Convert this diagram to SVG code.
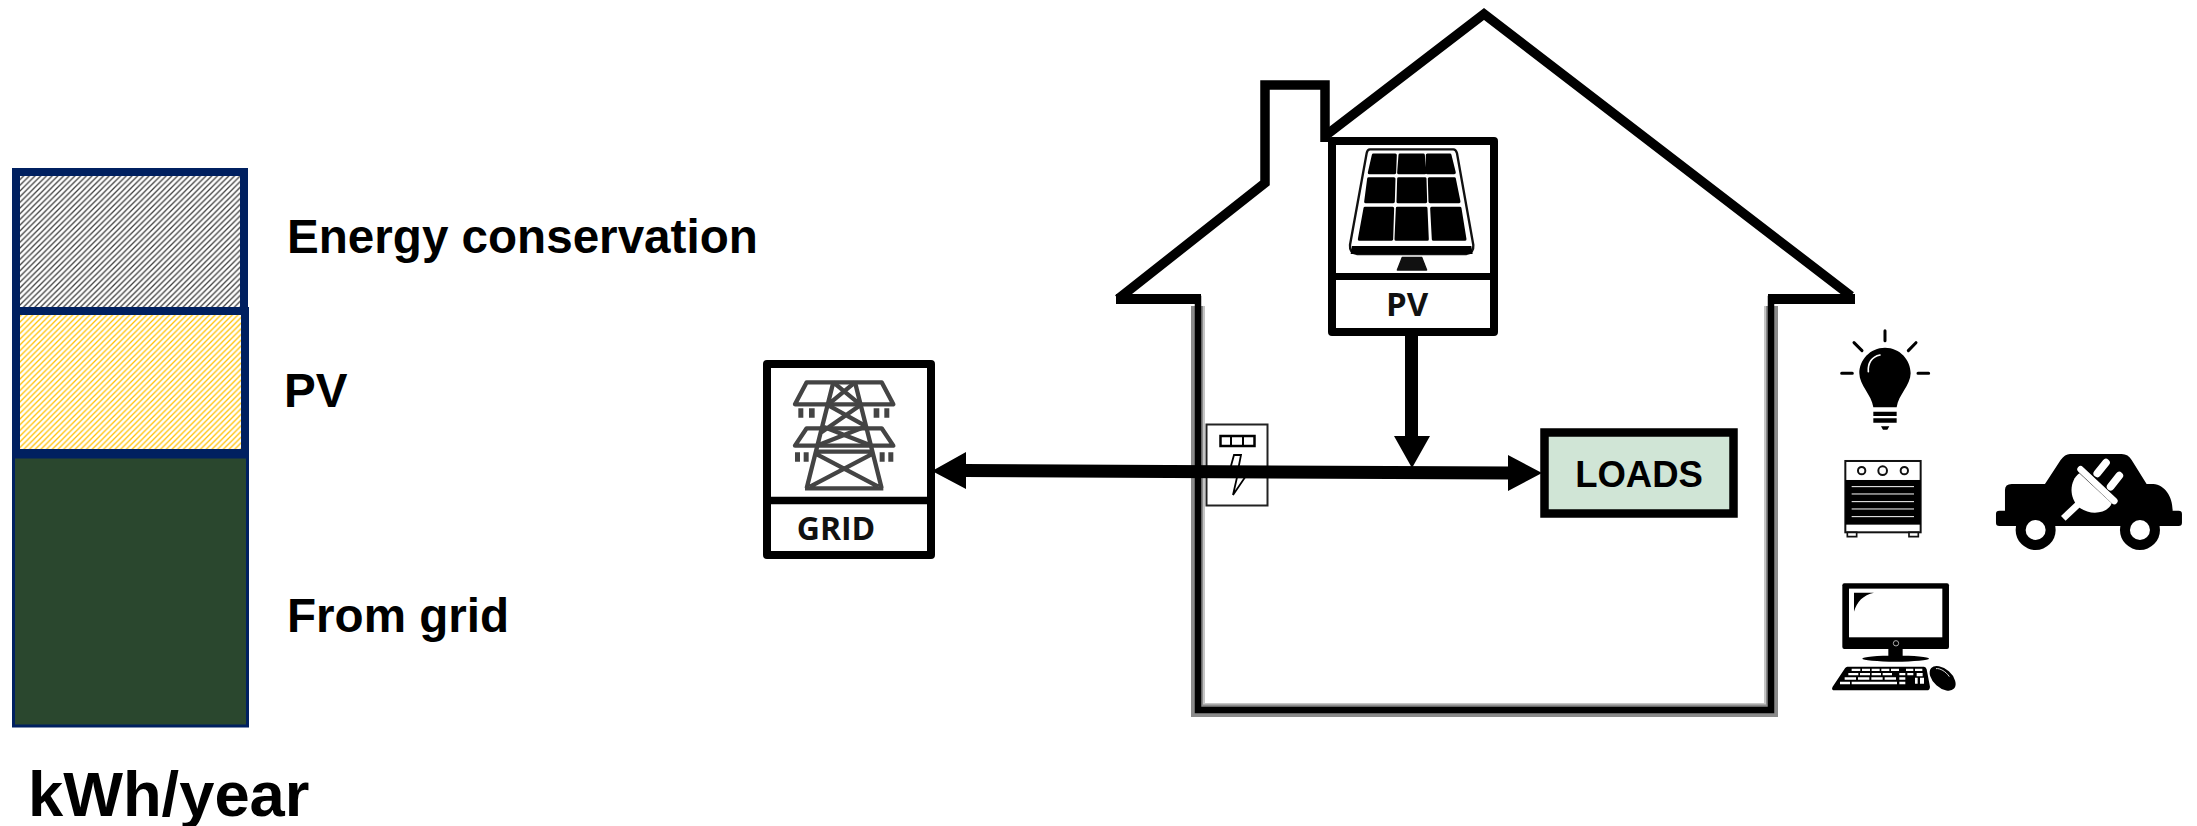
<svg xmlns="http://www.w3.org/2000/svg" width="2197" height="826" viewBox="0 0 2197 826">
<defs>
<pattern id="hatchGray" patternUnits="userSpaceOnUse" width="5.7" height="5.7"><path d="M-1.4 1.4L1.4 -1.4M0 5.7L5.7 0M4.3 7.100L7.100 4.300" stroke="#3c3c3c" stroke-width="1.300" fill="none"/></pattern>
<pattern id="hatchYellow" patternUnits="userSpaceOnUse" width="5.7" height="5.7"><path d="M-1.4 1.4L1.4 -1.4M0 5.7L5.7 0M4.3 7.100L7.100 4.300" stroke="#FFC000" stroke-width="1.300" fill="none"/></pattern>
<style>
.lab{font-family:"Liberation Sans",Arial,sans-serif;font-weight:700;fill:#000}
.tag{font-family:"Open Sans","Noto Sans",sans-serif;font-weight:700;fill:#111;text-anchor:middle}
.box{fill:#fff;stroke:#000;stroke-width:8;stroke-linejoin:round}
.navy{stroke:#002060;stroke-width:8}
.wire{stroke:#000;fill:none;stroke-width:13}
.head{fill:#000}
.tw{fill:none;stroke:#444;stroke-width:13;stroke-linejoin:round}
.ins{fill:#444}
.cell{fill:#000;stroke:#000;stroke-width:9;stroke-linejoin:round}
</style>
</defs>
<rect width="2197" height="826" fill="#fff"/>

<g id="stack-bar">
<g id="bar-conservation"><rect class="navy" x="16" y="172" width="228" height="139" fill="url(#hatchGray)"/></g>
<g id="bar-grid"><rect x="13.500" y="457" width="234" height="269" fill="#2A472E" stroke="#002060" stroke-width="3"/></g>
<g id="bar-pv"><rect class="navy" x="16" y="311" width="229" height="142" fill="url(#hatchYellow)"/></g>
</g>
<text class="lab" x="287" y="252.500" font-size="47.6">Energy conservation</text>
<text class="lab" x="284" y="407" font-size="47.6">PV</text>
<text class="lab" x="287" y="632" font-size="47.6">From grid</text>
<text class="lab" x="28" y="816" font-size="63.3">kWh/year</text>

<g id="house">
<path d="M1198 306V710H1771V306" fill="none" stroke="#8a8a8a" stroke-width="14"/>
<path d="M1204.500 306V703H1764.500V306" fill="none" stroke="#fff" stroke-width="3" opacity=".5"/>
<path d="M1118 299L1265 183V85H1325V142" fill="none" stroke="#000" stroke-width="9.500" stroke-linejoin="miter"/>
<path d="M1325 136L1484 14L1851 296" fill="none" stroke="#000" stroke-width="9.500" stroke-linejoin="miter"/>
<path d="M1118 299H1198V710H1771V299H1855" fill="none" stroke="#000" stroke-width="6.500" stroke-linejoin="miter"/>
<path d="M1116 299H1201M1768 299H1855" fill="none" stroke="#000" stroke-width="10"/>
</g>

<g id="meter">
<rect x="1206.500" y="424.500" width="61" height="81" fill="#fff" stroke="#222" stroke-width="2"/>
<rect x="1220.500" y="436" width="34" height="10" fill="#fff" stroke="#000" stroke-width="2.500"/>
<path d="M1231 437V445M1243 437V445" stroke="#000" stroke-width="2"/>
<path d="M1234 455H1241L1238 470H1250L1233 495L1238 473H1229Z" fill="#fff" stroke="#000" stroke-width="1.800"/>
</g>

<g id="grid">
<rect class="box" x="767" y="364" width="164" height="191"/>
<path d="M767 500.500H931" stroke="#000" stroke-width="7.500"/>
<g transform="translate(755 355) scale(.3333)">
<path class="tw" d="M155 82H380L415 148H120ZM155 220H380L415 272H120Z"/>
<path class="tw" d="M235 82L155 400M300 82L380 400M150 400H385M235 82L315 148M300 82L220 148M215 148L335 215M320 148L195 235M205 215L350 272M330 215L185 272M180 295L370 395M355 295L165 395M180 290H355"/>
<path class="ins" d="M130 160h15v28h-15zM162 160h17v28h-17zM356 160h17v28h-17zM388 160h15v28h-15zM120 292h15v28h-15zM146 292h15v28h-15zM374 292h15v28h-15zM400 292h15v28h-15z"/>
</g>
<text class="tag" x="836" y="540" font-size="32">GRID</text>
</g>

<g id="pv">
<rect class="box" x="1332" y="141" width="162" height="191"/>
<path d="M1332 276.500H1494" stroke="#000" stroke-width="7"/>
<g transform="translate(1310 130) scale(.3333)">
<path d="M180 58H430Q438 58 441 70L490 345Q492 370 468 372H142Q118 370 120 345L170 70Q172 58 180 58Z" fill="#fff" stroke="#111" stroke-width="7"/>
<path d="M126 348H484L488 372H122Z" fill="#000"/>
<path class="cell" d="M190 75L256 75L254 128L178 128Z"/>
<path class="cell" d="M270 75L340 75L345 128L266 128Z"/>
<path class="cell" d="M352 75L420 75L433 128L352 128Z"/>
<path class="cell" d="M176 146L252 146L250 215L167 215Z"/>
<path class="cell" d="M266 146L345 146L347 215L264 215Z"/>
<path class="cell" d="M358 146L433 146L447 215L360 215Z"/>
<path class="cell" d="M165 235L248 235L245 328L148 328Z"/>
<path class="cell" d="M262 235L348 235L352 328L258 328Z"/>
<path class="cell" d="M365 235L450 235L465 328L370 328Z"/>
<path d="M277 382H335L350 420H262Z" fill="#111" stroke="#111" stroke-width="4" stroke-linejoin="round"/>
</g>
<text class="tag" x="1407" y="316" font-size="33">PV</text>
</g>

<g id="loads">
<rect x="1544.500" y="432.500" width="189" height="81" fill="#D0E5D6" stroke="#000" stroke-width="8.500"/>
<text class="lab" x="1639" y="487" font-size="36.500" text-anchor="middle">LOADS</text>
</g>

<g id="connectors">
<path class="wire" d="M965 470.500L1510 473"/>
<path class="head" d="M932 471L966 452V489ZM1542 473L1508 455V491Z"/>
<path class="wire" d="M1411.500 336V440"/>
<path class="head" d="M1394 436H1430L1412 468Z"/>
</g>

<g id="bulb" transform="translate(1800 310) scale(.3333)">
<path d="M255 113C210 113 178 150 178 190C178 225 215 255 220 292H290C295 255 332 225 332 190C332 150 300 113 255 113Z" fill="#000"/>
<path d="M205 185C203 160 215 140 240 135" fill="none" stroke="#fff" stroke-width="5" stroke-linecap="round"/>
<path d="M220 305h70v13h-70zM220 325h70v13h-70zM243 349h25l-6 10h-13z" fill="#000"/>
<path d="M255 62V92M162 98L186 122M348 98L325 122M125 190H157M354 190H386" stroke="#000" stroke-width="9" stroke-linecap="round" fill="none"/>
</g>

<g id="oven" transform="translate(1800 310) scale(.3333)">
<rect x="136" y="453" width="226" height="214" fill="#fff" stroke="#111" stroke-width="6"/>
<rect x="136" y="510" width="226" height="134" fill="#000"/>
<path d="M155 530H342M155 552H342M155 575H342M155 597H342M155 620H342" stroke="#fff" stroke-width="3"/>
<circle cx="185" cy="482" r="11" fill="#fff" stroke="#111" stroke-width="6"/>
<circle cx="248" cy="482" r="13" fill="#fff" stroke="#111" stroke-width="6"/>
<circle cx="313" cy="482" r="11" fill="#fff" stroke="#111" stroke-width="6"/>
<path d="M142 667h28v13h-28zM327 667h28v13h-28z" fill="#fff" stroke="#111" stroke-width="5"/>
</g>

<g id="computer" transform="translate(1800 310) scale(.3333)">
<rect x="127" y="820" width="320" height="197" rx="6" fill="#000"/>
<rect x="147" y="836" width="280" height="146" fill="#fff"/>
<path d="M162 848H222C190 855 170 875 162 905Z" fill="#000"/>
<circle cx="288" cy="1000" r="8" fill="none" stroke="#aaa" stroke-width="3"/>
<path d="M265 1017H308V1042H265Z" fill="#000"/>
<ellipse cx="287" cy="1046" rx="100" ry="9" fill="#000"/>
<path d="M142 1070H372Q378 1070 380 1078L390 1130Q390 1141 380 1141H105Q92 1141 98 1130L135 1075Q138 1070 142 1070Z" fill="#000"/>
<path d="M155 1076h26v7h-26zM186 1076h24v7h-24zM215 1076h24v7h-24zM244 1076h24v7h-24zM273 1076h24v7h-24zM318 1076h22v7h-22zM345 1076h22v7h-22zM145 1089h30v7h-30zM180 1089h30v7h-30zM215 1089h28v7h-28zM248 1089h28v7h-28zM298 1089h18v7h-18zM322 1089h18v7h-18zM350 1089h18v10h-18zM134 1102h34v7h-34zM174 1102h34v7h-34zM214 1102h34v7h-34zM254 1102h34v7h-34zM298 1102h18v7h-18zM345 1103h8v18h-8zM360 1103h12v18h-12zM120 1115h30v8h-30zM155 1115h136v8h-136zM298 1115h18v8h-18z" fill="#fff"/>
<ellipse cx="428" cy="1105" rx="46" ry="28" transform="rotate(42 428 1105)" fill="#000"/>
<path d="M408 1076C420 1074 438 1085 448 1100" fill="none" stroke="#ddd" stroke-width="3"/>
</g>

<g id="car" transform="translate(1800 310) scale(.3333)">
<path d="M615 602V540Q615 522 635 522H735L782 450Q795 432 810 432H965Q985 432 995 450L1040 522H1060C1095 525 1118 560 1118 602H1136Q1146 602 1146 612V638Q1146 648 1136 648H598Q588 648 588 638V612Q588 602 598 602Z" fill="#000"/>
<circle cx="707" cy="660" r="60" fill="#000"/>
<circle cx="1020" cy="660" r="60" fill="#000"/>
<circle cx="707" cy="660" r="30" fill="#fff"/>
<circle cx="1020" cy="660" r="30" fill="#fff"/>
<path d="M790 625L840 578" stroke="#fff" stroke-width="20" fill="none"/>
<path d="M838 490L935 580C925 610 870 620 835 590C805 560 810 510 838 490Z" fill="#fff"/>
<path d="M842 478L943 573" stroke="#fff" stroke-width="20" stroke-linecap="round" fill="none"/>
<path d="M892 490L918 458M932 530L958 497" stroke="#fff" stroke-width="23" stroke-linecap="round" fill="none"/>
</g>
</svg>
